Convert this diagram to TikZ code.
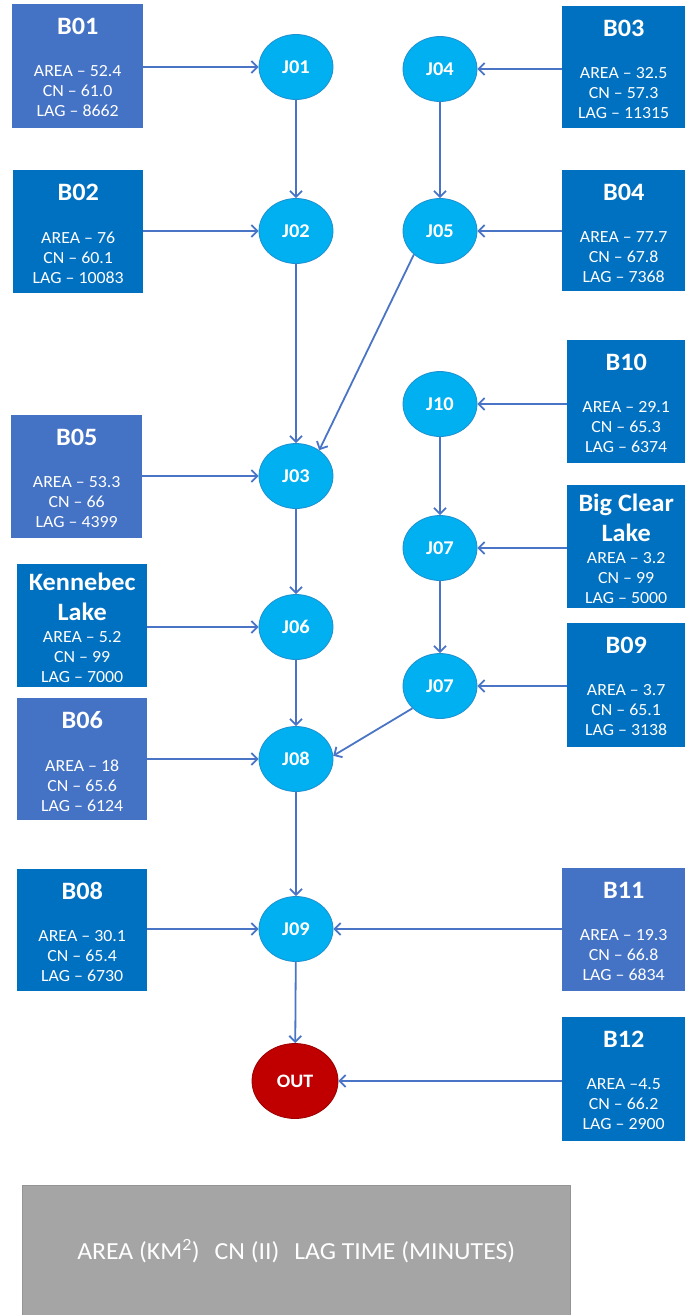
\documentclass[tikz,border=0pt]{standalone}
\usepackage{fontspec}
\setmainfont{Carlito}[FakeStretch=1.05]
\usetikzlibrary{arrows.meta,shapes.geometric,calc}
\definecolor{boxA}{HTML}{4472C4}
\definecolor{boxB}{HTML}{0070C0}
\definecolor{juncfill}{HTML}{00B0F0}
\definecolor{juncline}{HTML}{1F8FD0}
\definecolor{outfill}{HTML}{C00000}
\definecolor{outline}{HTML}{9A0000}
\definecolor{arrcol}{HTML}{4A74C6}
\definecolor{legfill}{HTML}{A5A5A5}
\tikzset{
  basinbox/.style={rectangle, inner sep=0pt, draw=none},
  boxtitle/.style={text=white, inner sep=0pt, align=center, font=\fontsize{25}{30}\selectfont\bfseries},
  boxbody/.style={text=white, inner sep=0pt, align=center, font=\fontsize{17}{20}\selectfont},
  junc/.style={ellipse, fill=juncfill, draw=juncline, line width=0.8pt, minimum width=74pt, minimum height=65pt, inner sep=0pt, text=white, font=\fontsize{19.5}{22}\selectfont\bfseries},
  outnode/.style={ellipse, fill=outfill, draw=outline, line width=0.8pt, minimum width=86pt, minimum height=75pt, inner sep=0pt, text=white, font=\fontsize{19}{22}\selectfont\bfseries},
  arr/.style={draw=arrcol, line width=1.8pt, -{Straight Barb[length=6pt,width=12pt]}},
  legendbox/.style={rectangle, fill=legfill, draw=legfill!90!black, line width=0.5pt, inner sep=0pt, text=white, font=\fontsize{24.5}{28}\selectfont}
}
\newcommand\basin[8]{%
  \node[basinbox, fill=#6, minimum width=#4pt, minimum height=#5pt, anchor=north west] (#1) at (#2,#3) {};
  \node[boxtitle] (#1-t) at ([yshift=-22pt]#1.north) {#7};
  \node[boxbody] (#1-b) at ([yshift=-87.5pt]#1.north) {#8};
}
\newcommand\lakebasin[8]{%
  \node[basinbox, fill=#6, minimum width=#4pt, minimum height=#5pt, anchor=north west] (#1) at (#2,#3) {};
  \node[boxtitle] (#1-t) at ([yshift=-33pt]#1.north) {#7};
  \node[boxbody] (#1-b) at ([yshift=-93pt]#1.north) {#8};
}
\begin{document}
\begin{tikzpicture}[x=1pt,y=-1pt]
\path[use as bounding box] (0,0) rectangle (685,1315);

% basins, left column
\basin{B01}{12}{4}{131}{124}{boxA}{B01}{AREA – 52.4\\CN – 61.0\\LAG – 8662}
\basin{B02}{13}{170}{130}{123}{boxB}{B02}{AREA – 76\\CN – 60.1\\LAG – 10083}
\basin{B05}{11}{415}{131}{123}{boxA}{B05}{AREA – 53.3\\CN – 66\\LAG – 4399}
\lakebasin{KL}{17}{564}{130}{123}{boxB}{Kennebec\\Lake}{AREA – 5.2\\CN – 99\\LAG – 7000}
\basin{B06}{17}{698}{130}{122}{boxA}{B06}{AREA – 18\\CN – 65.6\\LAG – 6124}
\basin{B08}{17}{869}{130}{122}{boxB}{B08}{AREA – 30.1\\CN – 65.4\\LAG – 6730}
% basins, right column
\basin{B03}{562}{6}{123}{122}{boxB}{B03}{AREA – 32.5\\CN – 57.3\\LAG – 11315}
\basin{B04}{562}{170}{123}{121}{boxB}{B04}{AREA – 77.7\\CN – 67.8\\LAG – 7368}
\basin{B10}{567}{340}{118}{123}{boxB}{B10}{AREA – 29.1\\CN – 65.3\\LAG – 6374}
\lakebasin{BCL}{567}{485}{118}{123}{boxB}{Big Clear\\Lake}{AREA – 3.2\\CN – 99\\LAG – 5000}
\basin{B09}{567}{623}{118}{124}{boxB}{B09}{AREA – 3.7\\CN – 65.1\\LAG – 3138}
\basin{B11}{562}{868}{123}{123}{boxA}{B11}{AREA – 19.3\\CN – 66.8\\LAG – 6834}
\basin{B12}{562}{1017}{123}{124}{boxB}{B12}{AREA –4.5\\CN – 66.2\\LAG – 2900}

% junctions
\node[junc] (J01) at (296,67) {J01};
\node[junc] (J02) at (296,231) {J02};
\node[junc] (J03) at (296,476) {J03};
\node[junc] (J06) at (296,627) {J06};
\node[junc] (J08) at (296,759) {J08};
\node[junc] (J09) at (296,929) {J09};
\node[outnode] (OUT) at (295,1081) {OUT};
\node[junc] (J04) at (440,69) {J04};
\node[junc] (J05) at (440,231) {J05};
\node[junc] (J10) at (440,404) {J10};
\node[junc] (J07a) at (440,548) {J07};
\node[junc] (J07b) at (440,686) {J07};

% basin inflows
\draw[arr] (B01.east |- J01) -- (J01);
\draw[arr] (B02.east |- J02) -- (J02);
\draw[arr] (B05.east |- J03) -- (J03);
\draw[arr] (KL.east |- J06) -- (J06);
\draw[arr] (B06.east |- J08) -- (J08);
\draw[arr] (B08.east |- J09) -- (J09);
\draw[arr] (B03.west |- J04) -- (J04);
\draw[arr] (B04.west |- J05) -- (J05);
\draw[arr] (B10.west |- J10) -- (J10);
\draw[arr] (BCL.west |- J07a) -- (J07a);
\draw[arr] (B09.west |- J07b) -- (J07b);
\draw[arr] (B11.west |- J09) -- (J09);
\draw[arr] (B12.west |- OUT) -- (OUT);

% routing
\draw[arr] (J01) -- (J02);
\draw[arr] (J02) -- (J03);
\draw[arr] (J03) -- (J06);
\draw[arr] (J06) -- (J08);
\draw[arr] (J08) -- (J09);
\draw[arr] (J09) -- (OUT);
\draw[arr] (J04) -- (J05);
\draw[arr] (J05.222) -- (J03.48);
\draw[arr] (J10) -- (J07a);
\draw[arr] (J07a) -- (J07b);
\draw[arr] (J07b.219) -- (J08.5);

% legend
\node[legendbox, minimum width=548pt, minimum height=131pt, anchor=north west] (legend) at (22,1185)
  {AREA (KM\textsuperscript{2})\hspace{15pt}CN (II)\hspace{15pt}LAG TIME (MINUTES)};
\end{tikzpicture}
\end{document}
